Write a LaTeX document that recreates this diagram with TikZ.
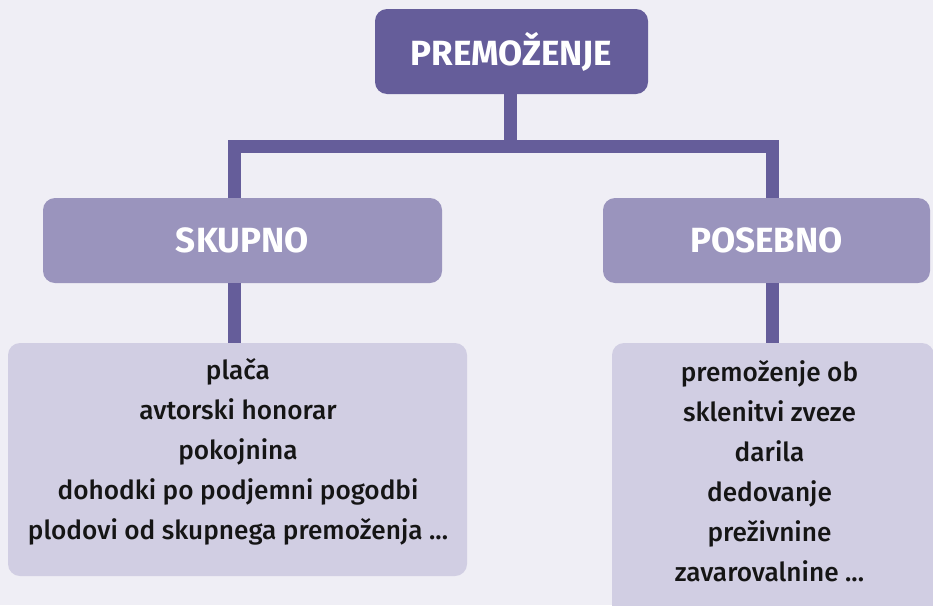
\documentclass[tikz,border=0pt]{standalone}
\usepackage{fontspec}
\setmainfont{Fira Sans}
\newfontfamily\bodyfont{Fira Sans Medium}
\definecolor{bgc}{HTML}{EFEEF5}
\definecolor{darkp}{HTML}{655D9A}
\definecolor{midp}{HTML}{9A94BD}
\definecolor{lightp}{HTML}{D1CEE3}
\definecolor{txt}{HTML}{151515}
\tikzset{
  box/.style={draw=none, rounded corners=12pt, inner sep=0pt},
  head/.style={text=white, font=\fontsize{35}{40}\selectfont\bfseries},
  body/.style={text=txt, align=center, font=\bodyfont\fontsize{26.2}{40}\selectfont, inner sep=0pt},
  conn/.style={draw=darkp, line width=13pt, line join=miter},
}
\begin{document}
\begin{tikzpicture}[x=1pt,y=-1pt]
\useasboundingbox (0,0) rectangle (933,605);
\clip (0,0) rectangle (933,605);
\fill[bgc] (0,0) rectangle (933,605);
\coordinate (jl) at (234.5,146);
\coordinate (jr) at (772.5,146);
\coordinate (jm) at (510,146);
\node[box, fill=darkp, minimum width=273pt, minimum height=85pt, head] (top) at (511.5,51.5) {PREMOŽENJE};
\node[box, fill=midp, minimum width=399pt, minimum height=85pt, head] (skupno) at (242.5,240.5) {SKUPNO};
\node[box, fill=midp, minimum width=327pt, minimum height=85pt, head] (posebno) at (766.5,240.5) {POSEBNO};
\node[box, fill=lightp, minimum width=459pt, minimum height=233pt] (lbox) at (237.5,459.5) {};
\node[box, fill=lightp, minimum width=322pt, minimum height=290pt] (rbox) at (773,488) {};
\draw[conn] (top.south -| jm) -- (jm);
\draw[conn] (jl |- skupno.north) -- (jl) -- (jr) -- (jr |- posebno.north);
\draw[conn] (jl |- skupno.south) -- (jl |- lbox.north);
\draw[conn] (jr |- posebno.south) -- (jr |- rbox.north);
\node[body] (ltext) at (238,452) {plača\\avtorski honorar\\pokojnina\\dohodki po podjemni pogodbi\\plodovi od skupnega premoženja ...};
\node[body] (rtext) at (769.5,471.5) {premoženje ob\\sklenitvi zveze\\darila\\dedovanje\\preživnine\\zavarovalnine ...};
\end{tikzpicture}
\end{document}
